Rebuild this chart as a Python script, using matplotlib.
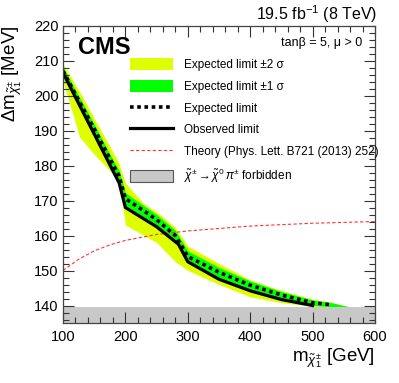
import numpy as np
import matplotlib
matplotlib.use("Agg")
import matplotlib.pyplot as plt
from matplotlib.patches import Patch
from matplotlib.lines import Line2D
from matplotlib.ticker import MultipleLocator

plt.rcParams['font.family'] = ['Liberation Sans', 'DejaVu Sans']
plt.rcParams['mathtext.fontset'] = 'custom'
plt.rcParams['mathtext.rm'] = 'Liberation Sans'
plt.rcParams['mathtext.it'] = 'Liberation Sans:italic'
plt.rcParams['mathtext.bf'] = 'Liberation Sans:bold'

# band grid (chargino mass, GeV) and limits in delta m (MeV)
m_grid = [100, 127, 150, 175, 190, 200, 230, 250, 280, 300, 350, 400, 450, 500, 530, 560]
expected = [207.0, 198.0, 190.5, 182.0, 177.0, 170.5, 167.0, 164.5, 160.0, 154.0, 149.5, 145.8, 143.0, 140.8, 140.2, 139.6]
green_up = [208.2, 199.3, 191.8, 183.3, 178.5, 172.2, 168.5, 166.0, 161.5, 155.6, 150.9, 147.0, 144.0, 141.6, 140.8, 139.6]
green_dn = [205.6, 196.4, 188.8, 180.2, 175.6, 168.6, 165.2, 162.7, 158.2, 152.3, 147.9, 144.4, 141.9, 140.0, 139.7, 139.6]
yellow_up = [209.0, 201.0, 193.5, 185.5, 180.5, 175.0, 169.0, 166.8, 162.3, 157.0, 152.0, 147.3, 144.3, 141.8, 140.9, 139.6]
yellow_dn = [204.0, 188.0, 183.2, 178.5, 175.5, 163.0, 160.0, 158.0, 152.5, 150.0, 146.0, 142.5, 140.8, 139.8, 139.6, 139.6]

m_obs = [100, 190, 200, 250, 285, 300, 350, 400, 420, 450, 500]
observed = [206.5, 175.0, 168.0, 162.5, 157.5, 152.5, 147.5, 144.2, 143.2, 141.7, 140.0]

m_th = [100, 125, 150, 175, 200, 250, 300, 400, 500, 600]
theory = [150.0, 153.2, 155.6, 157.3, 158.6, 160.3, 161.3, 162.7, 163.5, 164.0]

m_pion = 139.57

yellow = '#ddff00'
green = '#00ff00'

fig = plt.figure(figsize=(3.99, 3.83), dpi=100)
ax = fig.add_axes([63/399, 1-323/383, 312/399, (323-25.5)/383])

ax.fill_between(m_grid, yellow_dn, yellow_up, color=yellow, lw=0)
ax.fill_between(m_grid, green_dn, green_up, color=green, lw=0)
ax.plot(m_th, theory, color='#ff3333', lw=0.8, ls=(0, (3, 2)))
ax.plot(m_obs, observed, color='black', lw=2.3)
ax.plot(m_grid[:-1], expected[:-1], color='black', lw=2.6, ls=(0, (1, 1)))
ax.axhspan(130, m_pion, color='#c8c8c8', lw=0)

ax.set_xlim(100, 600)
ax.set_ylim(135, 220)
ax.xaxis.set_major_locator(MultipleLocator(100))
ax.xaxis.set_minor_locator(MultipleLocator(20))
ax.yaxis.set_major_locator(MultipleLocator(10))
ax.yaxis.set_minor_locator(MultipleLocator(2))
ax.tick_params(which='both', direction='in', top=True, right=True, labelsize=10.5, color='#333333')
ax.tick_params(which='major', length=8, width=0.8)
ax.tick_params(which='minor', length=4, width=0.8)
ax.tick_params(axis='x', pad=5)
ax.tick_params(axis='y', pad=3)
for s in ax.spines.values():
    s.set_color('#444444')
    s.set_linewidth(0.9)

fig.text(375/399, 1-362/383, r'$\mathrm{m}_{\tilde{\chi}^{\pm}_{1}}$ [GeV]', ha='right', va='baseline', fontsize=13.5)
fig.text(1/399, 1-26/383, r'$\Delta\mathrm{m}_{\tilde{\chi}^{\pm}_{1}}$ [MeV]', ha='left', va='top', rotation=90, fontsize=13.5)
fig.text(377/399, 1-20/383, r'19.5 fb$^{-1}$ (8 TeV)', ha='right', va='baseline', fontsize=11.5)
ax.text(78/399, 1-47/383, 'CMS', transform=fig.transFigure, fontsize=17, fontweight='bold', ha='left', va='center')
fig.text(362/399, 1-43/383, 'tanβ = 5, μ > 0', ha='right', va='center', fontsize=9)

handles = [
    Patch(facecolor=yellow, edgecolor='none'),
    Patch(facecolor=green, edgecolor='none'),
    Line2D([], [], color='black', lw=2.6, ls=(0, (1, 1))),
    Line2D([], [], color='black', lw=2.3),
    Line2D([], [], color='#ff3333', lw=0.8, ls=(0, (3, 2))),
    Patch(facecolor='#c8c8c8', edgecolor='#555555', lw=0.8),
]
labels = [
    'Expected limit ±2 σ',
    'Expected limit ±1 σ',
    'Expected limit',
    'Observed limit',
    'Theory (Phys. Lett. B721 (2013) 252)',
    r'$\tilde{\chi}^{\pm}\rightarrow\tilde{\chi}^{0}\,\pi^{\pm}$ forbidden',
]
ax.legend(handles, labels, loc='upper left', bbox_to_anchor=(130/399, 1-58/383),
          bbox_transform=fig.transFigure, frameon=False, fontsize=8.5,
          handlelength=3.65, handleheight=1.2, labelspacing=0.74, handletextpad=0.9,
          borderpad=0, borderaxespad=0)

fig.savefig('out.png', dpi=100)
